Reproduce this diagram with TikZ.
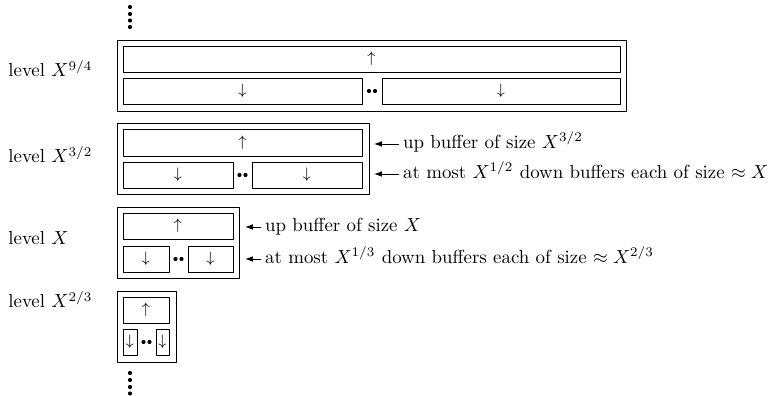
\documentclass[tikz,border=0pt]{standalone}
\usepackage{amsmath,amssymb}
\usetikzlibrary{arrows.meta,fit}

\tikzset{
  outerbox/.style={draw, line width=0.5pt, inner sep=0pt},
  bufbox/.style={draw, line width=0.45pt, inner sep=0pt},
  dirsym/.style={inner sep=0pt, font=\footnotesize},
  lvl/.style={anchor=base west, inner sep=0pt},
  note/.style={anchor=mid west, inner sep=2pt},
  ptr/.style={-{Latex[length=4.2pt,width=3pt]}, line width=0.5pt},
  bdot/.style={circle, fill, inner sep=0pt, minimum size=2.2pt}
}

\begin{document}
\begin{tikzpicture}[x=0.529pt, y=-0.529pt, line join=round]
\useasboundingbox (0,0) rectangle (769,396);
% dots above
\node[bdot] (vt1) at (130,7) {};
\node[bdot] (vt2) at (130,14) {};
\node[bdot] (vt3) at (130,20.5) {};
\node[bdot] (vt4) at (130,27) {};
% level X^{9/4}
\node[lvl] (labA) at (8,77) {level $X^{9/4}$};
\node[outerbox, fit={(117,40) (626,111)}] (lvA) {};
\node[bufbox, fit={(123,46) (620,72)}] (upA) {};
\node[bufbox, fit={(123,78) (362,104)}] (dnA1) {};
\node[bufbox, fit={(382,78) (620,104)}] (dnA2) {};
\node[dirsym] (sA0) at (upA.center) {$\uparrow$};
\node[dirsym] (sA1) at (dnA1.center) {$\downarrow$};
\node[dirsym] (sA2) at (dnA2.center) {$\downarrow$};
\node[bdot] (dA1) at (369,91) {};
\node[bdot] (dA2) at (375,91) {};
% level X^{3/2}
\node[lvl] (labB) at (8,163) {level $X^{3/2}$};
\node[outerbox, fit={(117,123) (369,194)}] (lvB) {};
\node[bufbox, fit={(123,129) (362,156)}] (upB) {};
\node[bufbox, fit={(123,162) (233,188)}] (dnB1) {};
\node[bufbox, fit={(252,162) (362,188)}] (dnB2) {};
\node[dirsym] (sB0) at (upB.center) {$\uparrow$};
\node[dirsym] (sB1) at (dnB1.center) {$\downarrow$};
\node[dirsym] (sB2) at (dnB2.center) {$\downarrow$};
\node[bdot] (dB1) at (239.5,175) {};
\node[bdot] (dB2) at (245.5,175) {};
\node[note] (noteB1) at (399,144) {up buffer of size $X^{3/2}$};
\node[note] (noteB2) at (399,174) {at most $X^{1/2}$ down buffers each of size $\approx X$};
\coordinate (tipB1) at (374,144);
\coordinate (tipB2) at (374,174);
\draw[ptr] (noteB1.mid west) -- (tipB1);
\draw[ptr] (noteB2.mid west) -- (tipB2);
% level X
\node[lvl] (labC) at (8,245) {level $X$};
\node[outerbox, fit={(117,207) (239,278)}] (lvC) {};
\node[bufbox, fit={(123,213) (233,239)}] (upC) {};
\node[bufbox, fit={(123,246) (169,272)}] (dnC1) {};
\node[bufbox, fit={(188,246) (233,272)}] (dnC2) {};
\node[dirsym] (sC0) at (upC.center) {$\uparrow$};
\node[dirsym] (sC1) at (dnC1.center) {$\downarrow$};
\node[dirsym] (sC2) at (dnC2.center) {$\downarrow$};
\node[bdot] (dC1) at (175.5,259) {};
\node[bdot] (dC2) at (181.5,259) {};
\node[note] (noteC1) at (261,227) {up buffer of size $X$};
\node[note] (noteC2) at (261,259) {at most $X^{1/3}$ down buffers each of size $\approx X^{2/3}$};
\coordinate (tipC1) at (245,227);
\coordinate (tipC2) at (245,259);
\draw[ptr] (noteC1.mid west) -- (tipC1);
\draw[ptr] (noteC2.mid west) -- (tipC2);
% level X^{2/3}
\node[lvl] (labD) at (8,308) {level $X^{2/3}$};
\node[outerbox, fit={(117,291) (176,362)}] (lvD) {};
\node[bufbox, fit={(123,297) (169,323)}] (upD) {};
\node[bufbox, fit={(123,329) (137,355)}] (dnD1) {};
\node[bufbox, fit={(156,329) (169,355)}] (dnD2) {};
\node[dirsym] (sD0) at (upD.center) {$\uparrow$};
\node[dirsym] (sD1) at (dnD1.center) {$\downarrow$};
\node[dirsym] (sD2) at (dnD2.center) {$\downarrow$};
\node[bdot] (dD1) at (143.5,342) {};
\node[bdot] (dD2) at (149.5,342) {};
% dots below
\node[bdot] (vb1) at (130,373) {};
\node[bdot] (vb2) at (130,380) {};
\node[bdot] (vb3) at (130,387) {};
\node[bdot] (vb4) at (130,393.5) {};
\end{tikzpicture}
\end{document}
